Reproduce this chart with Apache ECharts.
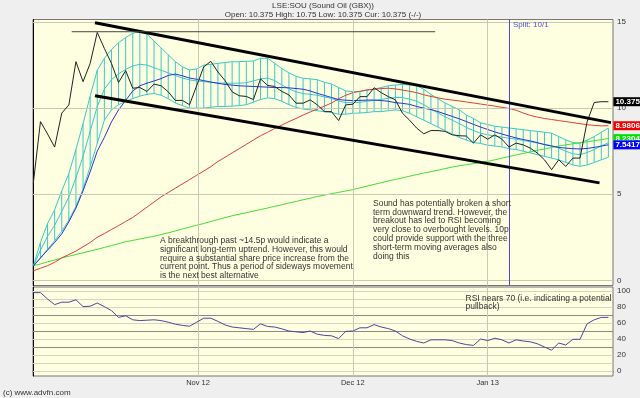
<!DOCTYPE html>
<html>
<head>
<meta charset="utf-8">
<script src="https://cdn.jsdelivr.net/npm/echarts@6/dist/echarts.min.js"></script>
<style>
html, body { margin: 0; padding: 0; background: #efefef; }
#chart { width: 640px; height: 398px; }
</style>
</head>
<body>
<div id="chart"></div>
<script>
// x = trading day index (0 .. 81), late Sep 2012 -> end Jan 2013
var closes = [5.66, 9.22, 8.5, 7.74, 9.71, 10.19, 12.7, 11.54, 12.6, 14.4,
    13.47, 12.6, 11.49, 12.18, 11.16, 11.2, 10.97, 11.4, 11.3, 10.95,
    10.45, 10.45, 10.2, 11.3, 12.4, 12.72, 12.1, 11.6, 10.95, 10.72,
    10.68, 10.5, 11.7, 11.32, 11.26, 10.97, 10.77, 10.29, 10.29, 10.48,
    10.19, 9.8, 9.8, 9.28, 10.19, 10.23, 10.67, 10.67, 11.19, 10.9,
    10.67, 10.48, 9.7, 9.3, 8.84, 8.51, 8.7, 8.7, 8.65, 8.45,
    8.4, 8.38, 7.97, 8.45, 8.2, 8.45, 8.2, 7.74, 7.97, 7.87,
    7.68, 7.39, 7.0, 6.43, 7.0, 6.62, 7.1, 7.1, 9.2, 10.33,
    10.375, 10.375];
var upperBand = [0.83, 2.2, 3.3, 4.1, 5.2, 6.2, 7.6, 9.1, 10.7, 12.2,
    12.9, 13.4, 13.8, 14.1, 14.35, 14.45, 14.3, 13.9, 13.5, 13.1,
    12.7, 12.4, 12.22, 12.28, 12.5, 12.55, 12.6, 12.65, 12.7, 12.7,
    12.72, 12.74, 12.9, 12.9, 12.6, 12.3, 12.05, 11.85, 11.74, 11.7,
    11.65, 11.5, 11.4, 11.2, 11.0, 10.96, 10.96, 11.05, 11.1, 11.2,
    11.3, 11.35, 11.38, 11.35, 11.3, 11.1, 10.8, 10.55, 10.3, 10.1,
    9.9, 9.6, 9.4, 9.15, 9.05, 8.95, 8.9, 8.85, 8.8, 8.75,
    8.7, 8.65, 8.6, 8.55, 8.35, 8.16, 8.0, 7.97, 8.15, 8.35,
    8.6, 8.84];
var midBand = [0.83, 1.75, 2.55, 3.2, 4.0, 4.85, 5.95, 7.2, 8.65, 10.1,
    11.1, 11.65, 12.0, 12.25, 12.45, 12.55, 12.5, 12.35, 12.2, 12.05,
    11.9, 11.75, 11.64, 11.58, 11.54, 11.5, 11.47, 11.45, 11.45, 11.45,
    11.48, 11.58, 11.7, 11.75, 11.6, 11.35, 11.12, 10.95, 10.85, 10.8,
    10.75, 10.65, 10.57, 10.42, 10.32, 10.33, 10.34, 10.4, 10.45, 10.5,
    10.58, 10.62, 10.62, 10.52, 10.4, 10.2, 9.95, 9.72, 9.5, 9.3,
    9.1, 8.88, 8.7, 8.55, 8.45, 8.38, 8.32, 8.25, 8.2, 8.12,
    8.05, 7.97, 7.9, 7.82, 7.68, 7.5, 7.35, 7.3, 7.42, 7.6,
    7.8, 8.0];
var lowerBand = [0.83, 1.3, 1.8, 2.3, 2.85, 3.5, 4.3, 5.3, 6.6, 7.95,
    9.3, 9.9, 10.2, 10.4, 10.55, 10.7, 10.8, 10.85, 10.75, 10.55,
    10.3, 10.15, 10.0, 10.0, 10.0, 10.05, 10.1, 10.1, 10.12, 10.15,
    10.2, 10.35, 10.5, 10.6, 10.55, 10.4, 10.2, 10.05, 9.95, 9.9,
    9.85, 9.8, 9.75, 9.65, 9.65, 9.7, 9.72, 9.75, 9.8, 9.8,
    9.85, 9.9, 9.85, 9.7, 9.5, 9.3, 9.1, 8.9, 8.7, 8.5,
    8.3, 8.15, 8.0, 7.95, 7.85, 7.8, 7.75, 7.65, 7.6, 7.5,
    7.4, 7.3, 7.2, 7.1, 7.0, 6.85, 6.7, 6.62, 6.7, 6.85,
    7.0, 7.15];
var blueMa = [0.83, 1.3, 1.75, 2.2, 2.7, 3.4, 4.2, 5.2, 6.3, 7.5,
    8.3, 9.2, 9.9, 10.45, 11.0, 11.3, 11.45, 11.58, 11.72, 11.9,
    11.98, 11.88, 11.75, 11.68, 11.6, 11.52, 11.44, 11.38, 11.34, 11.3,
    11.28, 11.26, 11.24, 11.22, 11.2, 11.2, 11.18, 11.14, 11.1, 11.0,
    10.86, 10.74, 10.62, 10.5, 10.46, 10.44, 10.45, 10.47, 10.47, 10.44,
    10.4, 10.32, 10.28, 10.22, 10.1, 10.0, 9.92, 9.8, 9.66, 9.52,
    9.38, 9.22, 9.06, 8.9, 8.76, 8.62, 8.5, 8.38, 8.27, 8.18,
    8.1, 8.0, 7.88, 7.8, 7.72, 7.68, 7.65, 7.63, 7.66, 7.72,
    7.8, 7.87];
var redMa = [0.55, 0.7, 0.85, 1.05, 1.3, 1.5, 1.7, 1.95, 2.2, 2.5,
    2.72, 2.95, 3.18, 3.42, 3.65, 3.95, 4.25, 4.55, 4.85, 5.1,
    5.35, 5.6, 5.85, 6.1, 6.35, 6.6, 6.9, 7.15, 7.4, 7.65,
    7.9, 8.15, 8.4, 8.6, 8.82, 9.02, 9.22, 9.4, 9.6, 9.78,
    9.95, 10.12, 10.3, 10.55, 10.75, 10.9, 10.98, 11.06, 11.1, 11.14,
    11.16, 11.12, 11.05, 10.98, 10.9, 10.78, 10.68, 10.6, 10.52, 10.47,
    10.42, 10.36, 10.3, 10.24, 10.18, 10.12, 10.05, 9.98, 9.88, 9.72,
    9.58, 9.48, 9.4, 9.34, 9.28, 9.22, 9.16, 9.1, 9.04, 9.0,
    8.97, 8.98];
var greenMa = [0.85, 0.95, 1.07, 1.18, 1.3, 1.4, 1.5, 1.6, 1.7, 1.8,
    1.91, 2.02, 2.13, 2.24, 2.32, 2.4, 2.48, 2.56, 2.66, 2.76,
    2.87, 2.98, 3.09, 3.2, 3.3, 3.42, 3.53, 3.64, 3.75, 3.84,
    3.93, 4.02, 4.11, 4.2, 4.3, 4.39, 4.49, 4.58, 4.68, 4.77,
    4.87, 4.95, 5.03, 5.11, 5.19, 5.27, 5.37, 5.47, 5.57, 5.67,
    5.77, 5.86, 5.95, 6.05, 6.14, 6.23, 6.31, 6.4, 6.49, 6.58,
    6.65, 6.72, 6.78, 6.85, 6.91, 7.0, 7.1, 7.19, 7.28, 7.37,
    7.46, 7.55, 7.63, 7.72, 7.8, 7.87, 7.93, 7.99, 8.05, 8.11,
    8.17, 8.23];
var rsi = [98, 98, 90, 83, 86, 86, 89, 80.5, 81, 85,
    80.5, 75.5, 67, 69, 64, 63, 63.5, 64, 63, 61,
    58.5, 57, 56, 61, 66, 66, 62, 57.6, 55, 54,
    53, 52, 59, 55.6, 55, 52.7, 50, 49, 48, 50,
    46, 44.5, 44, 40.5, 49.5, 50, 54, 54, 58, 55,
    53, 50, 44, 40, 37, 35, 39, 39, 39, 38,
    35, 33, 32, 40, 38, 41, 39, 35, 39, 37.5,
    36.5, 34, 30, 26, 35, 32.5, 39.6, 39.6, 59, 64,
    67, 67];

var tickPos = [23.2, 45, 64];
var tickLabels = ['Nov 12', 'Dec 12', 'Jan 13'];
var priceTicks = [0, 5, 10, 15];
var rsiTicks = [0, 20, 40, 60, 80, 100];
var rsiLevels = [0, 10, 20, 30, 40, 50, 60, 70, 80, 90, 100];
var rsiStrong = [30, 50, 70];
var topTrend = [[8.68, 14.96], [81.37, 9.16]];
var bottomTrend = [[8.68, 10.72], [79.75, 5.66]];
var resistance = [[5.4, 14.44], [56.6, 14.44]];
var splitAt = 67;

var font = '"Liberation Sans", Arial, sans-serif';

function pairs(arr) {
    return arr.map(function (v, i) { return [i, v]; });
}

function maLine(arr, color, z, tag, tagBg) {
    var s = {
        type: 'line', data: pairs(arr), symbol: 'none', silent: true, z: z,
        lineStyle: { color: color, width: 1 }
    };
    if (tag) {
        s.endLabel = {
            show: true, formatter: tag, distance: 5,
            backgroundColor: tagBg, color: '#fff', fontSize: 8, fontWeight: 'bold',
            fontFamily: font, padding: [1, 2, 0, 2], lineHeight: 8
        };
    }
    return s;
}

var chart = echarts.init(document.getElementById('chart'));
chart.setOption({
    animation: false,
    backgroundColor: '#efefef',
    textStyle: { fontFamily: font },
    grid: [
        { left: 33, top: 19.5, width: 580, height: 266, show: true, backgroundColor: '#fefee0', borderColor: '#777', borderWidth: 1 },
        { left: 33, top: 287, width: 580, height: 89, show: true, backgroundColor: '#fefee0', borderColor: '#777', borderWidth: 1 }
    ],
    xAxis: [
        { type: 'value', gridIndex: 0, min: -0.05, max: 81.65, axisLine: { show: false }, axisTick: { show: false }, axisLabel: { show: false }, splitLine: { show: false } },
        { type: 'value', gridIndex: 1, min: -0.05, max: 81.65, axisLine: { show: true, lineStyle: { color: '#444' } }, axisTick: { show: false }, splitLine: { show: false },
          axisLabel: { customValues: tickPos, fontSize: 7.5, color: '#333', margin: 3,
              formatter: function (v) { return tickLabels[tickPos.indexOf(v)]; } } }
    ],
    yAxis: [
        { type: 'value', gridIndex: 0, position: 'right', min: -0.3, max: 15.15,
          axisLine: { show: true, lineStyle: { color: '#000' } },
          axisTick: { show: true, customValues: priceTicks, length: 3, lineStyle: { color: '#000' } },
          axisLabel: { customValues: priceTicks, fontSize: 8, color: '#333', margin: 4 },
          splitLine: { show: false } },
        { type: 'value', gridIndex: 1, position: 'right', min: -6.25, max: 105,
          axisLine: { show: true, lineStyle: { color: '#000' } },
          axisTick: { show: true, customValues: rsiTicks, length: 3, lineStyle: { color: '#000' } },
          axisLabel: { customValues: rsiTicks, fontSize: 8, color: '#333', margin: 4 },
          splitLine: { show: false } }
    ],
    graphic: [
        { type: 'text', x: 323, y: 2, style: { text: 'LSE:SOU (Sound Oil (GBX))', font: '8px ' + font, fill: '#333', align: 'center' } },
        { type: 'text', x: 323, y: 11, style: { text: 'Open: 10.375 High: 10.75 Low: 10.375 Cur: 10.375 (-/-)', font: '8px ' + font, fill: '#333', align: 'center' } },
        { type: 'text', x: 3, y: 389, style: { text: '(c) www.advfn.com', font: '8px ' + font, fill: '#333' } },
        { type: 'text', x: 513, y: 21, z: 20, style: { text: 'Split: 10/1', font: '8px ' + font, fill: '#5050d8' } },
        { type: 'text', x: 160, y: 236.5, z: 20, style: { text: 'A breakthrough past ~14.5p would indicate a\nsignificant long-term uptrend. However, this would\nrequire a substantial share price increase from the\ncurrent point. Thus a period of sideways movement\nis the next best alternative', font: '8.5px ' + font, fill: '#333', lineHeight: 8.7 } },
        { type: 'text', x: 373, y: 199, z: 20, style: { text: 'Sound has potentially broken a short\nterm downward trend. However, the\nbreakout has led to RSI becoming\nvery close to overbought levels. 10p\ncould provide support with the three\nshort-term moving averages also\ndoing this', font: '8.5px ' + font, fill: '#333', lineHeight: 8.8 } },
        { type: 'text', x: 465.5, y: 295, z: 20, style: { text: 'RSI nears 70 (i.e. indicating a potential\npullback)', font: '8.5px ' + font, fill: '#333', lineHeight: 8 } }
    ],
    series: [
        // grid lines of the price panel
        { type: 'line', data: [], xAxisIndex: 0, yAxisIndex: 0, z: 1, silent: true,
          markLine: { silent: true, symbol: 'none', animation: false, label: { show: false },
              lineStyle: { color: '#c8c8b4', type: 'solid', width: 1 },
              data: priceTicks.map(function (v) { return { yAxis: v }; })
                  .concat(tickPos.map(function (v) { return { xAxis: v }; })) } },
        // grid lines of the RSI panel
        { type: 'line', data: [], xAxisIndex: 1, yAxisIndex: 1, z: 1, silent: true,
          markLine: { silent: true, symbol: 'none', animation: false, label: { show: false },
              data: rsiLevels.map(function (v) {
                  return { yAxis: v, lineStyle: { color: rsiStrong.indexOf(v) >= 0 ? '#8a8a80' : '#d6d6c0', type: 'solid', width: 1 } };
              }).concat(tickPos.map(function (v) {
                  return { xAxis: v, lineStyle: { color: '#c8c8b4', type: 'solid', width: 1 } };
              })) } },
        // hatched band
        { type: 'custom', xAxisIndex: 0, yAxisIndex: 0, silent: true, z: 2,
          data: upperBand.map(function (u, i) { return [i, lowerBand[i], u]; }),
          encode: { x: 0, y: [1, 2] },
          renderItem: function (params, api) {
              var a = api.coord([api.value(0), api.value(1)]);
              var b = api.coord([api.value(0), api.value(2)]);
              return { type: 'line', shape: { x1: a[0], y1: a[1], x2: b[0], y2: b[1] },
                  style: { stroke: '#3cc8c8', lineWidth: 1 } };
          } },
        maLine(upperBand, '#3cc8c8', 3),
        maLine(midBand, '#3cc8c8', 3),
        maLine(lowerBand, '#3cc8c8', 3),
        maLine(greenMa, '#44dd33', 4, '8.2304', '#00e000'),
        maLine(redMa, '#e03c3c', 4, '8.9806', '#ee0000'),
        maLine(blueMa, '#3030d0', 4, '7.5417', '#0000ff'),
        maLine(closes, '#222', 6, '10.375', '#000'),
        // trend lines
        { type: 'line', data: topTrend, symbol: 'none', silent: true, z: 7, lineStyle: { color: '#000', width: 3 } },
        { type: 'line', data: bottomTrend, symbol: 'none', silent: true, z: 7, lineStyle: { color: '#000', width: 3 } },
        { type: 'line', data: resistance, symbol: 'none', silent: true, z: 7, lineStyle: { color: '#444', width: 1 } },
        // split marker
        { type: 'line', data: [], xAxisIndex: 0, yAxisIndex: 0, z: 8, silent: true,
          markLine: { silent: true, symbol: 'none', animation: false, label: { show: false },
              lineStyle: { color: '#4848e8', type: 'solid', width: 1, opacity: 1 },
              emphasis: { disabled: true },
              data: [{ xAxis: splitAt }] } },
        // RSI
        { type: 'line', xAxisIndex: 1, yAxisIndex: 1, data: pairs(rsi), symbol: 'none', silent: true, z: 5,
          lineStyle: { color: '#4848a0', width: 1 } }
    ]
});
</script>
</body>
</html>
